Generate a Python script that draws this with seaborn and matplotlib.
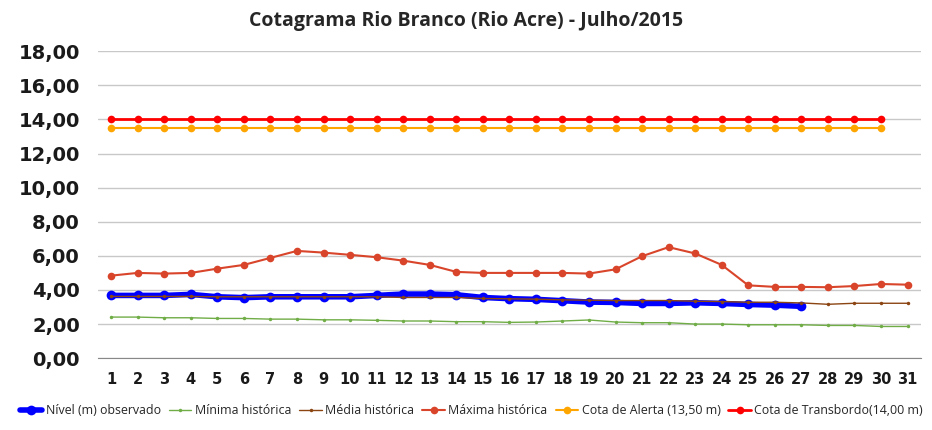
import numpy as np
import pandas as pd
import matplotlib
matplotlib.use("Agg")
import matplotlib.pyplot as plt
import seaborn as sns
from matplotlib.ticker import FuncFormatter, FixedLocator

days = list(range(1, 32))

observado = [3.68, 3.68, 3.68, 3.74, 3.60, 3.55, 3.60, 3.60, 3.60, 3.60,
             3.68, 3.76, 3.76, 3.72, 3.56, 3.49, 3.45, 3.37, 3.29, 3.27,
             3.21, 3.21, 3.25, 3.21, 3.15, 3.11, 3.04]
minima = [2.41, 2.41, 2.37, 2.37, 2.33, 2.33, 2.29, 2.29, 2.25, 2.25,
          2.22, 2.18, 2.18, 2.14, 2.14, 2.10, 2.12, 2.18, 2.24, 2.12,
          2.08, 2.08, 2.00, 2.00, 1.96, 1.96, 1.96, 1.92, 1.92, 1.86, 1.86]
media = [3.62, 3.62, 3.62, 3.62, 3.60, 3.60, 3.60, 3.60, 3.60, 3.60,
         3.60, 3.56, 3.56, 3.56, 3.50, 3.48, 3.46, 3.42, 3.40, 3.38,
         3.38, 3.38, 3.34, 3.32, 3.28, 3.28, 3.24, 3.16, 3.22, 3.22, 3.22]
maxima = [4.84, 5.00, 4.96, 5.00, 5.25, 5.47, 5.88, 6.29, 6.19, 6.06,
          5.92, 5.72, 5.47, 5.06, 5.00, 5.00, 5.00, 5.00, 4.96, 5.21,
          5.98, 6.51, 6.14, 5.47, 4.27, 4.18, 4.18, 4.16, 4.23, 4.35, 4.31]
cota_alerta = [13.50] * 30
cota_transbordo = [14.00] * 30

series = [
    ("Nível (m) observado", observado, "#0000FF", 4.0, 7),
    ("Mínima histórica", minima, "#70AD47", 1.0, 2.5),
    ("Média histórica", media, "#8B4513", 1.0, 2.5),
    ("Máxima histórica", maxima, "#D9452B", 1.5, 5.5),
    ("Cota de Alerta (13,50 m)", cota_alerta, "#FFA500", 1.5, 5.5),
    ("Cota de Transbordo(14,00 m)", cota_transbordo, "#FF0000", 2.0, 5.5),
]

sns.set_style("white")

fig = plt.figure(figsize=(9.32, 4.3), dpi=100)
ax = fig.add_axes([0.105, 0.167, 0.883, 0.714])

for name, vals, color, lw, ms in series:
    df = pd.DataFrame({"dia": days[:len(vals)], "nivel": vals})
    sns.lineplot(data=df, x="dia", y="nivel", ax=ax, color=color, linewidth=lw,
                 marker="o", markersize=ms, markeredgewidth=0, label=name)

ax.set_xlim(0.5, 31.5)
ax.set_ylim(0, 18)
ax.set_yticks(np.arange(0, 19, 2))
ax.yaxis.set_major_formatter(FuncFormatter(lambda v, p: f"{v:.2f}".replace(".", ",")))
ax.set_xticks(days)
ax.xaxis.set_minor_locator(FixedLocator(np.arange(0.5, 32, 1)))
ax.tick_params(axis="x", which="major", length=0, pad=10)
ax.tick_params(axis="x", which="minor", length=4, color="#888888", direction="out")
ax.tick_params(axis="y", length=0, pad=13)
for lbl in ax.get_xticklabels():
    lbl.set_fontweight("bold")
    lbl.set_fontsize(10.5)
    lbl.set_color("#1a1a1a")
for lbl in ax.get_yticklabels():
    lbl.set_fontweight("bold")
    lbl.set_fontsize(14)
    lbl.set_color("#1a1a1a")
ax.set_xlabel("")
ax.set_ylabel("")
ax.grid(axis="y", color="#C8C8C8", linewidth=1)
ax.set_axisbelow(True)
for s in ["top", "right", "left"]:
    ax.spines[s].set_visible(False)
ax.spines["bottom"].set_color("#888888")

ax.set_title("Cotagrama Rio Branco (Rio Acre) - Julho/2015", fontsize=14,
             fontweight="bold", family="Open Sans", pad=18, x=0.448)

ax.legend(loc="center", bbox_to_anchor=(0.454, -0.17), ncol=6, frameon=False,
          prop={"family": "Open Sans", "size": 8.9}, handlelength=1.8,
          handletextpad=0.3, columnspacing=0.65)

fig.savefig("out.png", dpi=100)
